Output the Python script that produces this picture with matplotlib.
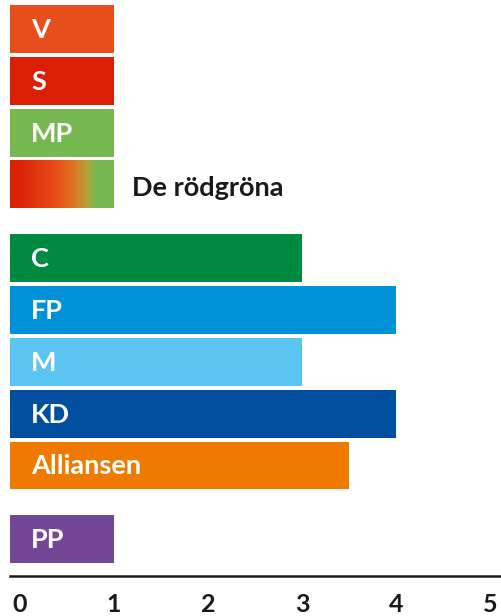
import numpy as np
import matplotlib.pyplot as plt
from matplotlib.colors import LinearSegmentedColormap

plt.rcParams['font.family'] = ['Lato', 'DejaVu Sans']

# data
parties = ['V', 'S', 'MP', 'De rödgröna', 'C', 'FP', 'M', 'KD', 'Alliansen', 'PP']
values = [1, 1, 1, 1, 3, 4, 3, 4, 3.5, 1]
colors = ['#E84E1B', '#DA1F05', '#76B852', None, '#008A40', '#0091D6',
          '#5BC4F1', '#00509F', '#EE7B00', '#744796']
groups = [0, 0, 0, 0, 1, 1, 1, 1, 1, 2]
ticks = [0, 1, 2, 3, 4, 5]

gap = 0.42
ypos = np.arange(len(parties)) + np.array(groups) * gap
h = 0.923
x0 = -0.1

fig = plt.figure(figsize=(5.01, 6.16), dpi=100)
ax = fig.add_axes([10 / 501, 40 / 616, 490 / 501, 571 / 616])

for i, (p, v, c) in enumerate(zip(parties, values, colors)):
    if c is None:
        # gradient bar for the red-green block
        cmap = LinearSegmentedColormap.from_list(
            'rg', [(0, '#DA1F05'), (0.1, '#DC2308'), (0.45, '#E84E1B'),
                   (0.6, '#E0701F'), (0.75, '#B5A43A'), (0.82, '#76B852'), (1, '#76B852')])
        grad = np.linspace(0, 1, 256).reshape(1, -1)
        ax.imshow(grad, cmap=cmap, aspect='auto', interpolation='bilinear',
                  extent=[x0, v, ypos[i] + h / 2, ypos[i] - h / 2], zorder=2)
        ax.annotate(p, (v, ypos[i]), xytext=(18, -4), textcoords='offset pixels',
                    va='center', ha='left', fontsize=19.5, fontweight='bold',
                    color='#1a1a1a')
    else:
        ax.barh(ypos[i], v - x0, left=x0, height=h, color=c, zorder=2)
        ax.annotate(p, (x0, ypos[i]), xytext=(21, -1), textcoords='offset pixels',
                    va='center', ha='left', fontsize=19.5, fontweight='bold',
                    color='white')

ax.set_xlim(x0, 5.1)
ax.set_ylim(ypos[-1] + 0.7115, -h / 2)
ax.set_xticks(ticks)
ax.set_xticklabels([str(t) for t in ticks], fontsize=18, fontweight='bold', color='#1a1a1a')
ax.tick_params(axis='x', length=0, pad=12)
ax.set_yticks([])
for s in ['top', 'right', 'left']:
    ax.spines[s].set_visible(False)
ax.spines['bottom'].set_linewidth(1.8)
ax.spines['bottom'].set_color('#1a1a1a')

plt.savefig('out.png', dpi=100)
